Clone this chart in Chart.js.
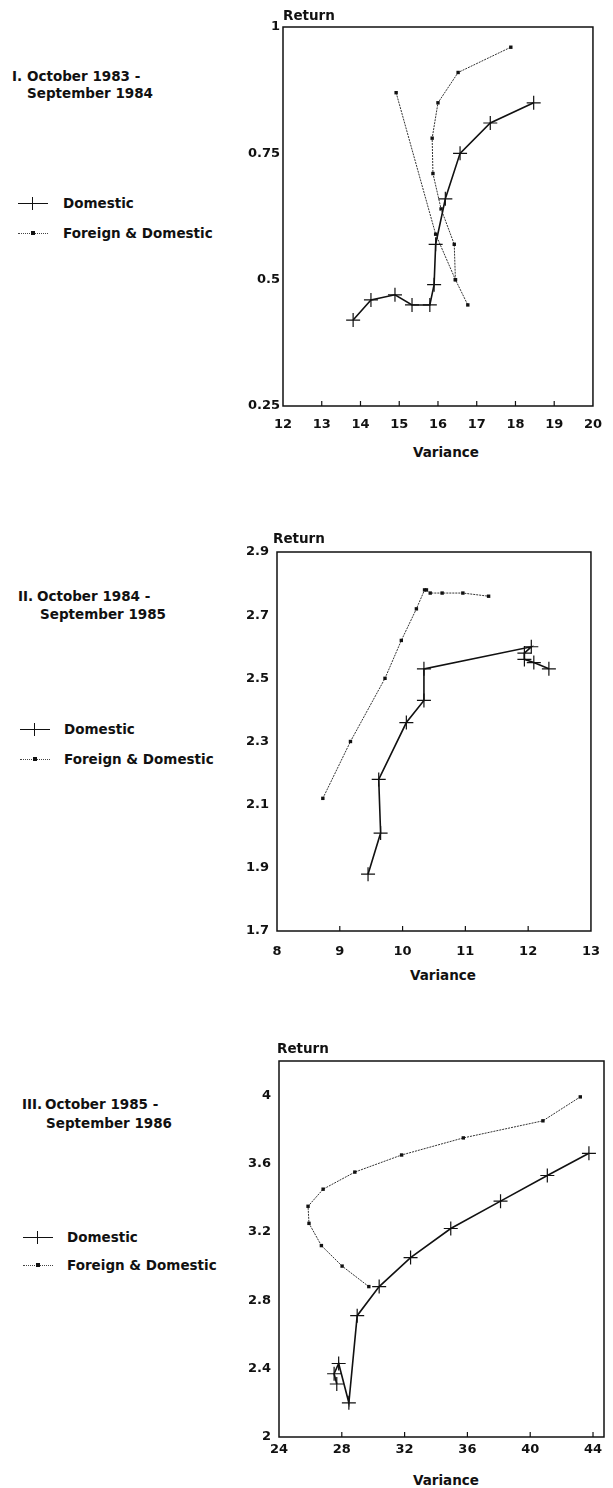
<!DOCTYPE html>
<html>
<head>
<meta charset="utf-8">
<script src="https://cdn.jsdelivr.net/npm/chart.js@4.4.1/dist/chart.umd.min.js"></script>
<style>
  body { margin: 0; background: #fff; width: 613px; height: 1488px; position: relative; overflow: hidden;
         font-family: "DejaVu Sans", sans-serif; font-weight: bold; color: #111; }
  .t { position: absolute; font-size: 13.5px; line-height: 16px; white-space: nowrap; }
  canvas { position: absolute; }
  .sym { position: absolute; width: 30px; height: 0; }
  .sym.dom { border-top: 1px solid #111; }
  .sym.dom::after { content: ""; position: absolute; left: 14px; top: -7px; width: 1px; height: 13px; background: #111; }
  .sym.for { border-top: 1px dotted #444; }
  .sym.for::after { content: ""; position: absolute; left: 13px; top: -3px; width: 4px; height: 4px; background: #111; }
</style>
</head>
<body>

<canvas id="c1" width="390" height="426" style="left:223px;top:10px"></canvas>
<canvas id="c2" width="396" height="426" style="left:217px;top:535px"></canvas>
<canvas id="c3" width="394" height="423" style="left:219px;top:1044px"></canvas>

<!-- panel I -->
<div class="t" style="left:12px;top:68px">I.</div>
<div class="t" style="left:27px;top:68px">October 1983 -</div>
<div class="t" style="left:27px;top:85px">September 1984</div>
<div class="sym dom" style="left:18px;top:203px"></div>
<div class="t" style="left:63px;top:195px">Domestic</div>
<div class="sym for" style="left:18px;top:233px"></div>
<div class="t" style="left:63px;top:225px">Foreign &amp; Domestic</div>
<div class="t" style="left:283px;top:7px">Return</div>
<div class="t" style="left:413px;top:444px">Variance</div>

<!-- panel II -->
<div class="t" style="left:18px;top:588px">II.</div>
<div class="t" style="left:37px;top:588px">October 1984 -</div>
<div class="t" style="left:40px;top:606px">September 1985</div>
<div class="sym dom" style="left:20px;top:729px"></div>
<div class="t" style="left:64px;top:721px">Domestic</div>
<div class="sym for" style="left:20px;top:759px"></div>
<div class="t" style="left:64px;top:751px">Foreign &amp; Domestic</div>
<div class="t" style="left:273px;top:530px">Return</div>
<div class="t" style="left:410px;top:967px">Variance</div>

<!-- panel III -->
<div class="t" style="left:22px;top:1096px">III.</div>
<div class="t" style="left:45px;top:1096px">October 1985 -</div>
<div class="t" style="left:46px;top:1115px">September 1986</div>
<div class="sym dom" style="left:23px;top:1237px"></div>
<div class="t" style="left:67px;top:1229px">Domestic</div>
<div class="sym for" style="left:23px;top:1265px"></div>
<div class="t" style="left:67px;top:1257px">Foreign &amp; Domestic</div>
<div class="t" style="left:277px;top:1040px">Return</div>
<div class="t" style="left:413px;top:1472px">Variance</div>

<script>
// I. October 1983 - September 1984
const p1XTicks = [12, 13, 14, 15, 16, 17, 18, 19, 20];
const p1YTicks = [0.25, 0.5, 0.75, 1];
const p1DomX = [13.81, 14.27, 14.89, 15.33, 15.79, 15.90, 15.94, 16.19, 16.57, 17.35, 18.47];
const p1DomY = [0.42, 0.46, 0.47, 0.45, 0.45, 0.49, 0.57, 0.66, 0.75, 0.81, 0.85];
const p1ForX = [14.92, 15.94, 16.45, 16.77, null, 16.45, 16.42, 16.08, 15.87, 15.85, 16.00, 16.52, 17.88];
const p1ForY = [0.87, 0.59, 0.50, 0.45, null, 0.50, 0.57, 0.64, 0.71, 0.78, 0.85, 0.91, 0.96];

// II. October 1984 - September 1985
const p2XTicks = [8, 9, 10, 11, 12, 13];
const p2YTicks = [1.7, 1.9, 2.1, 2.3, 2.5, 2.7, 2.9];
const p2DomX = [9.45, 9.65, 9.62, 10.06, 10.34, 10.34, 12.05, 11.94, 11.94, 12.09, 12.33];
const p2DomY = [1.88, 2.01, 2.18, 2.36, 2.43, 2.53, 2.60, 2.58, 2.56, 2.55, 2.53];
const p2ForX = [8.73, 9.17, 9.72, 9.98, 10.22, 10.35, 10.38, 10.44, 10.63, 10.96, 11.37];
const p2ForY = [2.12, 2.30, 2.50, 2.62, 2.72, 2.78, 2.78, 2.77, 2.77, 2.77, 2.76];

// III. October 1985 - September 1986
const p3XTicks = [24, 28, 32, 36, 40, 44];
const p3YTicks = [2, 2.4, 2.8, 3.2, 3.6, 4];
const p3DomX = [27.68, 27.51, 27.80, 28.45, 28.98, 30.38, 32.38, 34.94, 38.11, 41.09, 43.74];
const p3DomY = [2.31, 2.37, 2.43, 2.20, 2.71, 2.88, 3.05, 3.22, 3.38, 3.53, 3.66];
const p3ForX = [43.19, 40.81, 35.74, 31.81, 28.83, 26.81, 25.85, 25.91, 26.70, 28.02, 29.72];
const p3ForY = [3.99, 3.85, 3.75, 3.65, 3.55, 3.45, 3.35, 3.25, 3.12, 3.00, 2.88];

const toPts = (xs, ys) => xs.map((x, i) => ({ x: x, y: ys[i] }));

// box round the plot plus small inward ticks on the bottom edge
const framePlugin = {
  id: "frame",
  beforeDatasetsDraw(chart) {
    const { ctx, chartArea: a } = chart;
    const xs = chart.scales.x;
    ctx.save();
    ctx.strokeStyle = "#111";
    ctx.lineWidth = 1.5;
    ctx.strokeRect(a.left, a.top, a.right - a.left, a.bottom - a.top);
    ctx.lineWidth = 1.2;
    xs.ticks.forEach((t) => {
      const px = xs.getPixelForValue(t.value);
      if (px > a.left + 2 && px < a.right - 2) {
        ctx.beginPath();
        ctx.moveTo(px, a.bottom);
        ctx.lineTo(px, a.bottom - 5);
        ctx.stroke();
      }
    });
    ctx.restore();
  }
};

function makeChart(id, opt) {
  const font = { family: "DejaVu Sans", size: 13, weight: "bold" };
  return new Chart(document.getElementById(id), {
    type: "scatter",
    data: {
      datasets: [
        {
          label: "Domestic",
          data: toPts(opt.domX, opt.domY),
          showLine: true,
          borderColor: "#111",
          borderWidth: 1.6,
          pointStyle: "cross",
          pointRadius: 7,
          pointBorderWidth: 1.2,
          pointBorderColor: "#111",
          tension: 0
        },
        {
          label: "Foreign & Domestic",
          data: toPts(opt.forX, opt.forY),
          showLine: true,
          spanGaps: false,
          borderColor: "#333",
          borderWidth: 1,
          borderDash: [2, 1],
          pointStyle: "rect",
          pointRadius: 2.4,
          pointBorderWidth: 0,
          pointBackgroundColor: "#111",
          tension: 0
        }
      ]
    },
    options: {
      responsive: false,
      animation: false,
      devicePixelRatio: 1,
      layout: { padding: { top: 17, right: opt.padRight, left: 0, bottom: 0 } },
      plugins: { legend: { display: false }, tooltip: { enabled: false } },
      scales: {
        x: {
          type: "linear",
          min: opt.xMin,
          max: opt.xMax,
          afterBuildTicks: (s) => { s.ticks = opt.xTicks.map((v) => ({ value: v })); },
          afterFit: (s) => { s.height = 30; },
          grid: { display: false, drawTicks: false },
          border: { display: false },
          ticks: { autoSkip: false, maxRotation: 0, padding: opt.xPad, color: "#111", font: font,
                   callback: (v) => String(v) }
        },
        y: {
          type: "linear",
          min: opt.yMin,
          max: opt.yMax,
          afterBuildTicks: (s) => { s.ticks = opt.yTicks.map((v) => ({ value: v })); },
          afterFit: (s) => { s.width = 60; },
          grid: { display: false, drawTicks: false },
          border: { display: false },
          ticks: { autoSkip: false, padding: opt.yPad, color: "#111", font: font,
                   callback: (v) => String(v) }
        }
      }
    },
    plugins: [framePlugin]
  });
}

makeChart("c1", {
  xMin: 12, xMax: 20, xTicks: p1XTicks, yMin: 0.25, yMax: 1, yTicks: p1YTicks,
  domX: p1DomX, domY: p1DomY, forX: p1ForX, forY: p1ForY,
  padRight: 10, xPad: 11, yPad: 3
});
makeChart("c2", {
  xMin: 8, xMax: 13, xTicks: p2XTicks, yMin: 1.7, yMax: 2.9, yTicks: p2YTicks,
  domX: p2DomX, domY: p2DomY, forX: p2ForX, forY: p2ForY,
  padRight: 10, xPad: 13, yPad: 8
});
makeChart("c3", {
  xMin: 24, xMax: 44.7, xTicks: p3XTicks, yMin: 2, yMax: 4.2, yTicks: p3YTicks,
  domX: p3DomX, domY: p3DomY, forX: p3ForX, forY: p3ForY,
  padRight: 9, xPad: 5, yPad: 8
});
</script>
</body>
</html>
